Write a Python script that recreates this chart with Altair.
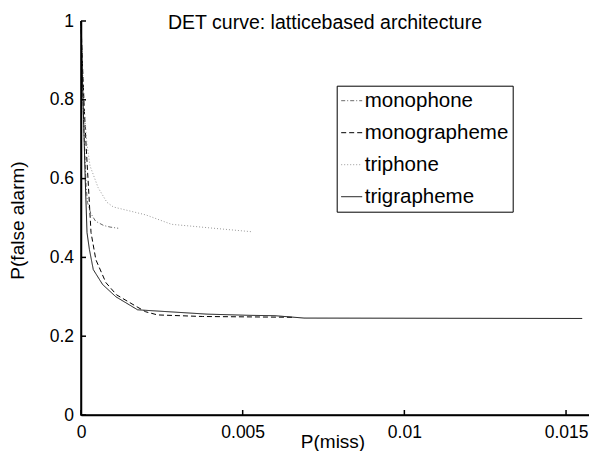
import altair as alt
import pandas as pd

series_names = ["monophone", "monographeme", "triphone", "trigrapheme"]

monophone_x = [0.0, 0.00004, 0.0001, 0.00016, 0.0002, 0.0003, 0.00045, 0.0007, 0.0009, 0.00115]
monophone_y = [1.0, 0.85, 0.70, 0.58, 0.54, 0.512, 0.492, 0.481, 0.477, 0.474]

monographeme_x = [0.0, 0.00004, 0.0001, 0.00016, 0.00023, 0.00031, 0.00046, 0.00077, 0.0011, 0.0017, 0.0020, 0.00237, 0.00376, 0.0066]
monographeme_y = [1.0, 0.90, 0.78, 0.68, 0.58, 0.463, 0.394, 0.336, 0.305, 0.276, 0.262, 0.254, 0.250, 0.248]

triphone_x = [0.0, 0.00004, 0.0001, 0.00018, 0.00028, 0.00053, 0.0008, 0.001, 0.002, 0.0028, 0.0041, 0.0053]
triphone_y = [1.0, 0.90, 0.78, 0.69, 0.632, 0.577, 0.54, 0.528, 0.508, 0.484, 0.474, 0.465]

trigrapheme_x = [0.0, 0.00003, 0.00008, 0.00013, 0.000186, 0.00026, 0.00038, 0.00067, 0.00108, 0.00175, 0.0039, 0.0052, 0.006, 0.0069, 0.0155]
trigrapheme_y = [1.0, 0.90, 0.75, 0.60, 0.463, 0.42, 0.369, 0.331, 0.30, 0.267, 0.256, 0.253, 0.252, 0.246, 0.245]

x_ticks = [0, 0.005, 0.01, 0.015]
y_ticks = [0, 0.2, 0.4, 0.6, 0.8, 1]
x_max = 0.01571

title_text = ["DET curve: latticebased architecture"]

line_colors = ["#6a6a6a", "#000000", "#9a9a9a", "#111111"]
line_dashes = [[4, 2, 1, 2], [5, 3], [1, 2], [1, 0]]

FONT = "Liberation Sans"
W, H = 508, 394
TICK_PX = 5

rows = []
for name, xs, ys in [
    ("monophone", monophone_x, monophone_y),
    ("monographeme", monographeme_x, monographeme_y),
    ("triphone", triphone_x, triphone_y),
    ("trigrapheme", trigrapheme_x, trigrapheme_y),
]:
    for i, (a, b) in enumerate(zip(xs, ys)):
        rows.append({"x": a, "y": b, "kind": name, "grp": name, "order": i})
df = pd.DataFrame(rows)

# inward ticks and axis frame, drawn through the same scales
trows = []
tick_dy = TICK_PX / H
tick_dx = TICK_PX * x_max / W
for v in x_ticks:
    trows.append({"x": v, "y": 0, "grp": f"xt{v}", "order": 0})
    trows.append({"x": v, "y": tick_dy, "grp": f"xt{v}", "order": 1})
for v in y_ticks:
    trows.append({"x": 0, "y": v, "grp": f"yt{v}", "order": 0})
    trows.append({"x": tick_dx, "y": v, "grp": f"yt{v}", "order": 1})
for i, (a, b) in enumerate([(0, 1), (0, 0), (x_max, 0)]):
    trows.append({"x": a, "y": b, "grp": "frame", "order": i})
tdf = pd.DataFrame(trows)

xscale = alt.Scale(domain=[0, x_max], nice=False, zero=False)
yscale = alt.Scale(domain=[0, 1], nice=False, zero=False)

x_axis = alt.Axis(values=x_ticks, format="~g", labelPadding=8.5, labelFlush=False,
                  domain=True, domainColor="black", domainWidth=1.5, zindex=1,
                  titleX=251.5, titleY=32, titleBaseline="alphabetic")
y_axis = alt.Axis(values=y_ticks, format="~g", labelPadding=7.5, labelFlush=False,
                  domain=True, domainColor="black", domainWidth=1.5, zindex=1,
                  titleX=-63.5, titleY=199, titleBaseline="middle",
                  titleAngle=-90, titleAlign="center")

legend = alt.Legend(
    orient="none", legendX=255.7, legendY=64.7, title=None,
    symbolType="stroke", symbolSize=441, symbolStrokeWidth=1,
    labelFontSize=20.5, labelFont=FONT, labelColor="black", labelOffset=2,
    padding=4, rowPadding=10, strokeColor="black", fillColor="white",
)

lines = alt.Chart(df).mark_line(strokeWidth=1).encode(
    x=alt.X("x:Q", scale=xscale, title="P(miss)", axis=x_axis),
    y=alt.Y("y:Q", scale=yscale, title="P(false alarm)", axis=y_axis),
    color=alt.Color("kind:N", scale=alt.Scale(domain=series_names, range=line_colors), legend=legend),
    strokeDash=alt.StrokeDash("kind:N", scale=alt.Scale(domain=series_names, range=line_dashes), legend=legend),
    detail="grp:N",
    order="order:Q",
)

ticks = alt.Chart(tdf).mark_line(strokeWidth=1.5, color="black", opacity=1).encode(
    x=alt.X("x:Q", scale=xscale, title="P(miss)", axis=x_axis),
    y=alt.Y("y:Q", scale=yscale, title="P(false alarm)", axis=y_axis),
    detail="grp:N",
    order="order:Q",
)

title = alt.Chart(pd.DataFrame({"t": title_text})).mark_text(
    font=FONT, fontSize=19.5, color="black", align="center", baseline="alphabetic"
).encode(text="t:N", x=alt.value(244), y=alt.value(8))

chart = alt.layer(lines, ticks, title).properties(
    width=W, height=H,
    padding={"left": 73, "top": 13, "right": 0, "bottom": 36},
    autosize=alt.AutoSizeParams(type="none"),
).configure_view(stroke=None).configure_axis(
    grid=False, ticks=False,
    labelFont=FONT, labelFontSize=17.5, labelColor="black",
    titleFont=FONT, titleFontSize=19, titleColor="black", titleFontWeight="normal",
)

chart.save("out.html", embed_options={"renderer": "svg", "actions": False})
